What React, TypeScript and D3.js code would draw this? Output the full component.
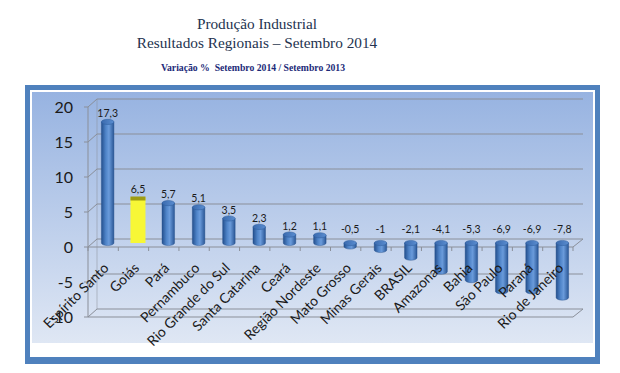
import React from "react";
import * as d3 from "d3";

const categories = [
  "Espírito Santo", "Goiás", "Pará", "Pernambuco", "Rio Grande do Sul",
  "Santa Catarina", "Ceará", "Região Nordeste", "Mato Grosso", "Minas Gerais",
  "BRASIL", "Amazonas", "Bahia", "São Paulo", "Paraná", "Rio de Janeiro",
];
const values = [17.3, 6.5, 5.7, 5.1, 3.5, 2.3, 1.2, 1.1, -0.5, -1, -2.1, -4.1, -5.3, -6.9, -6.9, -7.8];
const valueLabels = ["17,3", "6,5", "5,7", "5,1", "3,5", "2,3", "1,2", "1,1", "-0,5", "-1", "-2,1", "-4,1", "-5,3", "-6,9", "-6,9", "-7,8"];
const yTicks = [-10, -5, 0, 5, 10, 15, 20];
const highlighted = "Goiás";

const title1 = "Produção Industrial";
const title2 = "Resultados Regionais – Setembro 2014";
const subtitle = "Variação %\u00a0\u00a0Setembro 2014 / Setembro 2013";

export default function App() {
  const W = 620, H = 373;
  const DX = 9, DY = -8; // 3D depth offset
  const x = d3.scaleBand<string>().domain(categories).range([88, 573]).padding(0);
  const y = d3.scaleLinear().domain([-10, 20]).range([317, 107]);
  const bw = x.bandwidth();
  const barW = 12.5;
  const ry = 2.6;
  const sans = "Lato, 'Open Sans', sans-serif";
  const serif = "'Liberation Serif', 'DejaVu Serif', serif";
  const gridColor = "#8a8f99";

  return (
    <svg width={W} height={H} style={{ position: "absolute", left: 0, top: 0, background: "#fff" }}>
      <defs>
        <linearGradient id="bg" x1="0" y1="0" x2="0" y2="1">
          <stop offset="0" stopColor="#97b3e1" />
          <stop offset="1" stopColor="#dfe7f4" />
        </linearGradient>
        <linearGradient id="cyl" x1="0" y1="0" x2="1" y2="0">
          <stop offset="0" stopColor="#24508e" />
          <stop offset="0.35" stopColor="#4f84c8" />
          <stop offset="0.6" stopColor="#6a9bdb" />
          <stop offset="1" stopColor="#2a5796" />
        </linearGradient>
        <linearGradient id="cap" x1="0" y1="0" x2="1" y2="0">
          <stop offset="0" stopColor="#3a6aae" />
          <stop offset="1" stopColor="#5a8dd0" />
        </linearGradient>
      </defs>

      {/* titles */}
      <text x={257} y={29} textAnchor="middle" fontFamily={serif} fontSize={15.3} fill="#243350">{title1}</text>
      <text x={257} y={48} textAnchor="middle" fontFamily={serif} fontSize={15.3} fill="#243350">{title2}</text>
      <text x={253} y={71} textAnchor="middle" fontFamily={serif} fontSize={9.7} fontWeight="bold" fill="#1c2a78">{subtitle}</text>

      {/* frame */}
      <rect x={25} y={85} width={575} height={279} fill="#4f81bd" />
      <rect x={30} y={90} width={565} height={267} fill="#ffffff" />
      <rect x={32} y={92} width={561} height={251} fill="url(#bg)" />

      {/* back wall gridlines & side wall */}
      {yTicks.map((t) => (
        <g key={t}>
          <line x1={88 + DX} x2={583} y1={y(t) + DY} y2={y(t) + DY} stroke={gridColor} strokeWidth={1} />
          <line x1={88} x2={88 + DX} y1={y(t)} y2={y(t) + DY} stroke={gridColor} strokeWidth={1} />
          <line x1={84} x2={88} y1={y(t)} y2={y(t)} stroke={gridColor} strokeWidth={1} />
          <text x={73} y={y(t)} dy="0.35em" textAnchor="end" fontFamily={sans} fontSize={16} fill="#1a1a1a">{t}</text>
        </g>
      ))}
      <line x1={88 + DX} x2={88 + DX} y1={y(20) + DY} y2={y(-10) + DY} stroke={gridColor} strokeWidth={1} opacity={0.5} />
      <line x1={88} x2={88} y1={y(20)} y2={y(-10)} stroke={gridColor} strokeWidth={1} />
      {/* floor at -10 */}
      <line x1={88} x2={573} y1={y(-10)} y2={y(-10)} stroke={gridColor} strokeWidth={1} />
      <line x1={573} x2={583} y1={y(-10)} y2={y(-10) + DY} stroke={gridColor} strokeWidth={1} />
      {/* zero axis front */}
      <line x1={88} x2={573} y1={y(0)} y2={y(0)} stroke={gridColor} strokeWidth={1} />
      <line x1={573} x2={583} y1={y(0)} y2={y(0) + DY} stroke={gridColor} strokeWidth={1} />
      {categories.map((c) => (
        <line key={c} x1={(x(c) as number) + bw} x2={(x(c) as number) + bw} y1={y(0)} y2={y(0) + 4} stroke={gridColor} strokeWidth={1} />
      ))}
      <line x1={88} x2={88} y1={y(0)} y2={y(0) + 4} stroke={gridColor} strokeWidth={1} />

      {/* bars */}
      {categories.map((c, i) => {
        const v = values[i];
        const cx = (x(c) as number) + bw / 2 + DX / 2;
        const y0 = y(0) + DY / 2;
        const y1 = y(v) + DY / 2;
        if (c === highlighted) {
          const w = 15;
          return (
            <g key={c}>
              <rect x={cx - w / 2} y={y1} width={w} height={y0 - y1} fill="#f7f736" />
              <rect x={cx - w / 2} y={y1 - 1} width={w} height={4} fill="#9e9c12" />
            </g>
          );
        }
        const top = Math.min(y0, y1);
        const bot = Math.max(y0, y1);
        return (
          <g key={c}>
            <path
              d={`M${cx - barW / 2},${top} L${cx - barW / 2},${bot} A${barW / 2},${ry} 0 0 0 ${cx + barW / 2},${bot} L${cx + barW / 2},${top} Z`}
              fill="url(#cyl)"
              stroke="#1f4a85"
              strokeWidth={0.4}
            />
            <ellipse cx={cx} cy={top} rx={barW / 2} ry={ry} fill="url(#cap)" stroke="#2b5a9a" strokeWidth={0.5} />
          </g>
        );
      })}

      {/* value labels */}
      {categories.map((c, i) => {
        const v = values[i];
        const cx = (x(c) as number) + bw / 2 + DX / 2;
        const ly = v >= 0 ? y(v) + DY / 2 - 8.5 : y(0) + DY / 2 - 14;
        return (
          <text key={c} x={cx} y={ly} dy="0.35em" textAnchor="middle" fontFamily={sans} fontSize={10.5} fill="#1a1a1a">
            {valueLabels[i]}
          </text>
        );
      })}

      {/* category labels */}
      {categories.map((c) => {
        const cx = (x(c) as number) + bw / 2 + DX / 2;
        const lx = cx + 2;
        const ly = y(0) + 22;
        return (
          <text key={c} x={lx} y={ly} textAnchor="end" transform={`rotate(-45 ${lx} ${ly})`} fontFamily={sans} fontSize={14} fill="#1a1a1a">
            {c}
          </text>
        );
      })}
    </svg>
  );
}
